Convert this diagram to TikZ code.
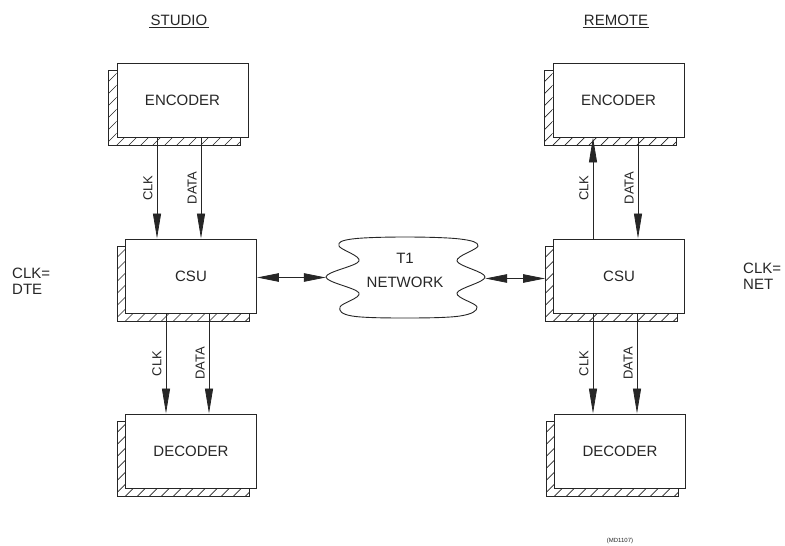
\documentclass[tikz,border=0pt]{standalone}
\usepackage{fontspec}
\setmainfont{Liberation Sans}
\usetikzlibrary{calc,arrows.meta}
\colorlet{ink}{black!85}
\tikzset{
  blk/.style={draw=ink, line width=0.9pt, fill=white, minimum width=131pt, minimum height=74pt, inner sep=0pt, text=ink, font=\fontsize{15}{17}\selectfont},
  sig/.style={draw=ink, line width=0.8pt, -{Triangle[length=25pt,width=8pt]}},
  duplex/.style={draw=ink, line width=0.8pt, {Triangle[length=22pt,width=8.5pt]}-{Triangle[length=22pt,width=8.5pt]}},
  lbl/.style={rotate=90, anchor=south, inner sep=4pt, font=\fontsize{13}{15}\selectfont, text=ink},
  hatch/.style={draw=ink, line width=0.7pt},
  shadowline/.style={draw=ink, line width=0.9pt},
  ttl/.style={font=\fontsize{15}{17}\selectfont, text=ink, inner xsep=1pt, inner ysep=1.5pt},
  side/.style={font=\fontsize{15}{16}\selectfont, text=ink, align=left, anchor=west, inner sep=0pt},
}
\newcommand{\boxshadow}[1]{%
  \coordinate (#1-A) at ($(#1.north west)+(-8pt,-8pt)$);
  \coordinate (#1-B) at ($(#1.south west)+(-8pt,-8pt)$);
  \coordinate (#1-C) at ($(#1.south east)+(-8pt,-8pt)$);
  \coordinate (#1-D) at ($(#1.south east)+(-8pt,0pt)$);
  \coordinate (#1-F) at ($(#1.north west)+(0pt,-8pt)$);
  \begin{scope}
    \clip (#1-A) -- (#1-B) -- (#1-C) -- (#1-D) -- (#1.south west) -- (#1-F) -- cycle;
    \foreach \t in {0,12,...,264}
      \draw[hatch] ($(#1-B)+(\t pt,0pt)+(-100pt,0pt)$) -- ++(100pt,100pt);
  \end{scope}
  \draw[shadowline] (#1-F) -- (#1-A) -- (#1-B) -- (#1-C) -- (#1-D);
}
\begin{document}
\begin{tikzpicture}[x=1pt,y=-1pt]
\useasboundingbox (0,0) rectangle (785,546);
\fill[white] (0,0) rectangle (785,546);

% titles
\node[ttl] (studio) at (179,20) {STUDIO};
\draw[ink, line width=0.9pt] (studio.south west) -- (studio.south east);
\node[ttl] (remote) at (616,20) {REMOTE};
\draw[ink, line width=0.9pt] (remote.south west) -- (remote.south east);

% boxes
\node[blk] (encL) at (182.5,100) {ENCODER};
\node[blk] (csuL) at (191,276) {CSU};
\node[blk] (decL) at (191,451) {DECODER};
\node[blk] (encR) at (618.5,100) {ENCODER};
\node[blk] (csuR) at (619,276) {CSU};
\node[blk] (decR) at (620,451) {DECODER};
\boxshadow{encL}
\boxshadow{csuL}
\boxshadow{decL}
\boxshadow{encR}
\boxshadow{csuR}
\boxshadow{decR}

% cloud
\node[minimum width=159pt, minimum height=80pt, inner sep=0pt] (net) at (405.5,277) {};
\draw[ink, line width=0.9pt] plot[smooth cycle, tension=0.6] coordinates {
  (352,239) (405,237) (460,239) (478,246) (457,261) (485,277) (457,293) (477,307)
  (460,316) (405,318) (352,316) (340,307) (359,293) (326,277) (359,261) (339,246)};
\node[ttl, align=center, font=\fontsize{15}{24}\selectfont] (nettxt) at (405,270) {T1\\NETWORK};

% side labels
\node[side] (clkdte) at (12,281) {CLK=\\DTE};
\node[side] (clknet) at (743,276) {CLK=\\NET};

% signal arrows, left
\draw[sig] ([xshift=-25.5pt]encL.south) -- ([xshift=-25.5pt]encL.south |- csuL.north) node[lbl, midway] {CLK};
\draw[sig] ([xshift=18.5pt]encL.south) -- ([xshift=18.5pt]encL.south |- csuL.north) node[lbl, midway] {DATA};
\draw[sig] ([xshift=-25pt]csuL.south) -- ([xshift=-25pt]csuL.south |- decL.north) node[lbl, midway] {CLK};
\draw[sig] ([xshift=18pt]csuL.south) -- ([xshift=18pt]csuL.south |- decL.north) node[lbl, midway] {DATA};

% signal arrows, right
\draw[sig] ([xshift=-25.5pt]encR.south |- csuR.north) -- ([xshift=-25.5pt]encR.south) node[lbl, midway] {CLK};
\draw[sig] ([xshift=19.5pt]encR.south) -- ([xshift=19.5pt]encR.south |- csuR.north) node[lbl, midway] {DATA};
\draw[sig] ([xshift=-26pt]csuR.south) -- ([xshift=-26pt]csuR.south |- decR.north) node[lbl, midway] {CLK};
\draw[sig] ([xshift=18pt]csuR.south) -- ([xshift=18pt]csuR.south |- decR.north) node[lbl, midway] {DATA};

% network links
\coordinate (csuRsh) at ($(csuR.west)+(-8pt,0pt)$);
\draw[duplex] ([yshift=-1.5pt]csuL.east) -- ([yshift=-1.5pt]csuL.east -| net.west);
\draw[duplex] ([yshift=-1.5pt]net.east) -- ([yshift=-1.5pt]net.east -| csuRsh);

% reference tag
\node[font=\fontsize{6}{7}\selectfont, text=ink] (tag) at (620,541) {(MD1107)};
\end{tikzpicture}
\end{document}
